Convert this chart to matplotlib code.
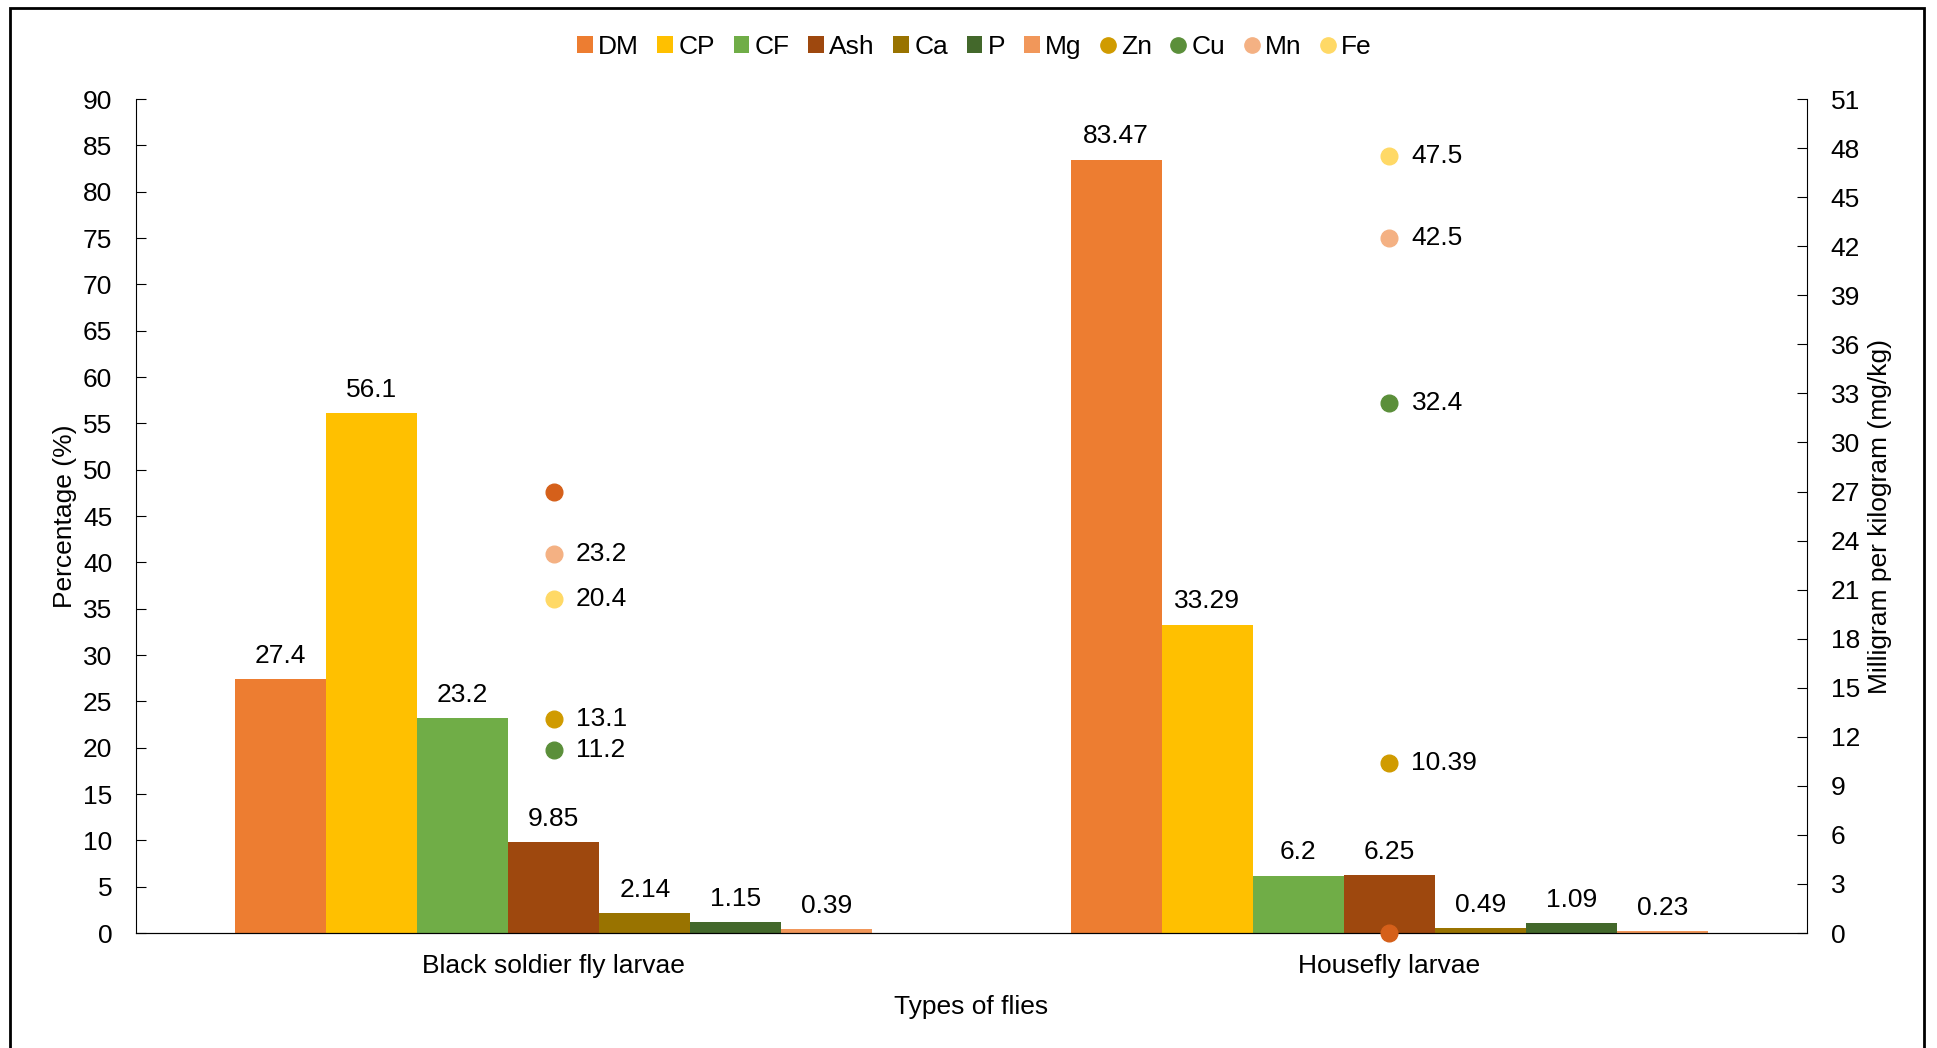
import numpy as np
import matplotlib.pyplot as plt
from matplotlib.lines import Line2D
from matplotlib.patches import Patch, Rectangle

plt.rcParams['font.family'] = ['Liberation Sans', 'DejaVu Sans']
narrow = ['Liberation Sans Narrow', 'Liberation Sans', 'DejaVu Sans']

# Data
flies = ['Black soldier fly larvae', 'Housefly larvae']

# bars, percentage (left axis)
bar_names = ['DM', 'CP', 'CF', 'Ash', 'Ca', 'P', 'Mg']
DM = [27.4, 83.47]
CP = [56.1, 33.29]
CF = [23.2, 6.2]
Ash = [9.85, 6.25]
Ca = [2.14, 0.49]
P = [1.15, 1.09]
Mg = [0.39, 0.23]
bar_colors = ['#ED7D31', '#FFC000', '#70AD47', '#9E480E', '#997300', '#43682B', '#F1975A']

# dots, mg/kg (right axis)
dot_names = ['Zn', 'Cu', 'Mn', 'Fe']
Zn = [13.1, 10.39]
Cu = [11.2, 32.4]
Mn = [23.2, 42.5]
Fe = [20.4, 47.5]
dot_colors = ['#D09B00', '#5B8F3A', '#F4B183', '#FFD966']
# extra unlabeled series shown in the chart (no legend entry, no labels)
extra = [27.0, 0.0]
extra_color = '#D5601A'

fs = 19

fig = plt.figure(figsize=(19.37, 10.48), dpi=100)
ax = fig.add_axes([0.0702, 0.1097, 0.8627, 0.7958])
ax2 = ax.twinx()

x = np.arange(len(flies))
n = len(bar_names)
width = 0.763 / n
bar_series = [DM, CP, CF, Ash, Ca, P, Mg]
for i, (vals, col) in enumerate(zip(bar_series, bar_colors)):
    pos = x - 0.763 / 2 + width * (i + 0.5)
    bars = ax.bar(pos, vals, width, color=col, zorder=2)
    ax.bar_label(bars, labels=[f'{v:g}' for v in vals], padding=8, fontsize=fs)

ax.set_xlim(-0.5, 1.5)
ax.set_ylim(0, 90)
ax.set_yticks(np.arange(0, 91, 5))
ax.set_xticks(x)
ax.set_xticklabels(flies)
ax.tick_params(axis='y', direction='in', length=7, labelsize=fs, pad=17)
ax.tick_params(axis='x', length=0, labelsize=fs, pad=15)
ax.spines['top'].set_visible(False)
ax.spines['right'].set_visible(False)
ax.set_ylabel('Percentage (%)', fontsize=fs, family=narrow, labelpad=4)
ax.set_xlabel('Types of flies', fontsize=fs, family=narrow, labelpad=12)

# dots on secondary axis
ax2.plot(x, extra, 'o', color=extra_color, ms=12, zorder=5, clip_on=False)
for vals, col in zip([Zn, Cu, Mn, Fe], dot_colors):
    ax2.plot(x, vals, 'o', color=col, ms=12, zorder=5, clip_on=False)
    for xi, v in zip(x, vals):
        ax2.annotate(f'{v:g}', (xi, v), xytext=(16, 0), textcoords='offset points',
                     va='center', ha='left', fontsize=fs)
ax2.set_ylim(0, 51)
ax2.set_yticks(np.arange(0, 52, 3))
ax2.tick_params(axis='y', direction='in', length=7, labelsize=fs, pad=17)
ax2.spines['top'].set_visible(False)
ax2.spines['left'].set_visible(False)
ax2.set_ylabel('Milligram per kilogram (mg/kg)', fontsize=fs, family=narrow, labelpad=6)

# legend
handles = [Patch(facecolor=c, label=nm) for nm, c in zip(bar_names, bar_colors)]
handles += [Line2D([], [], ls='none', marker='o', ms=11, color=c, label=nm)
            for nm, c in zip(dot_names, dot_colors)]
fig.legend(handles=handles, loc='center', bbox_to_anchor=(0.503, 0.955), ncol=11,
           frameon=False, fontsize=fs, handlelength=0.6, handleheight=0.6,
           handletextpad=0.2, columnspacing=0.7)

# outer border
fig.patches.append(Rectangle((10 / 1937, -0.02), 1924 / 1937 - 10 / 1937, 1.02 - 8 / 1048,
                             transform=fig.transFigure, fill=False, ec='black', lw=2))

fig.savefig('out.png', dpi=100)
